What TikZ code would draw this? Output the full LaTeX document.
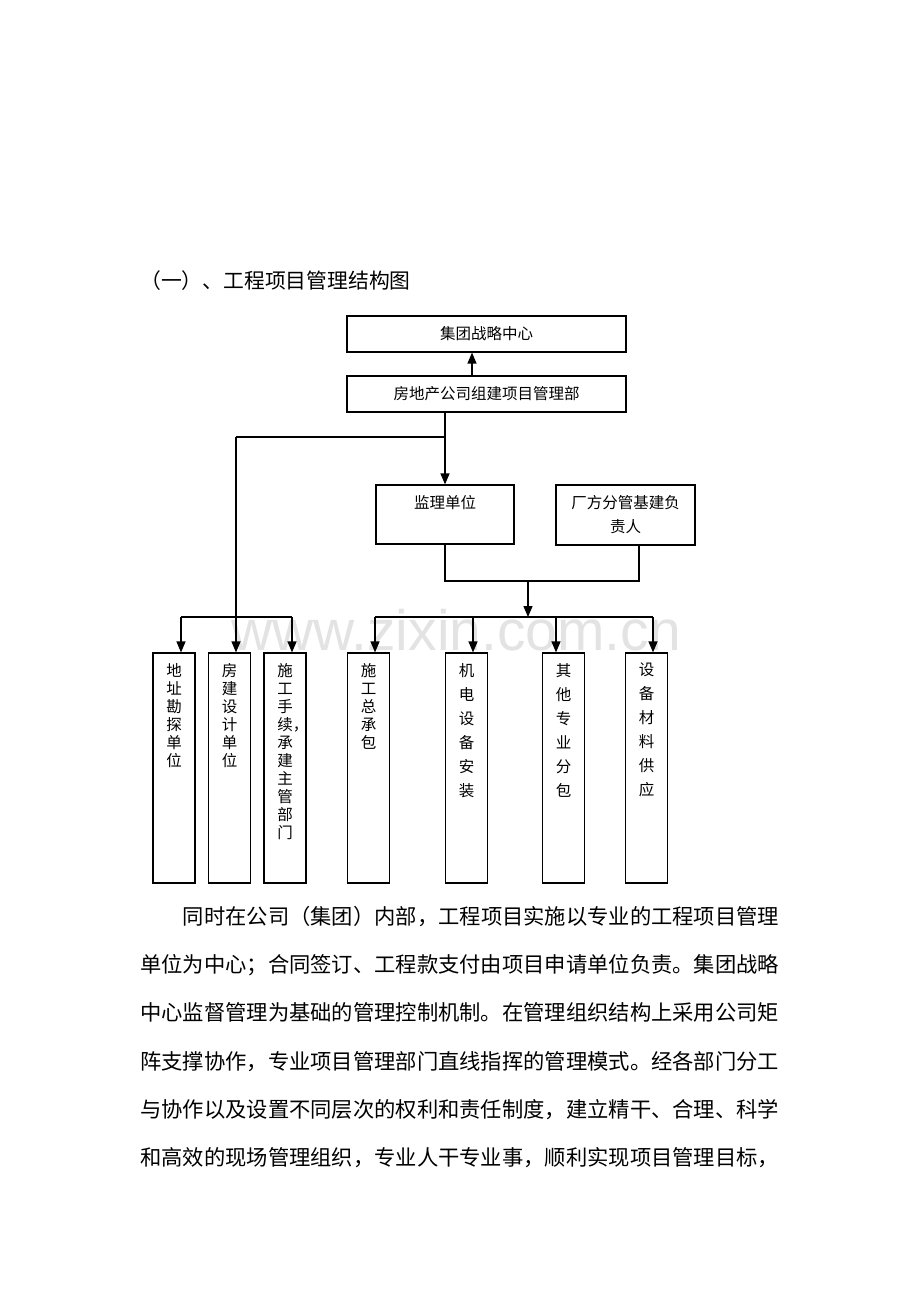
\documentclass[tikz,border=0pt]{standalone}
\usepackage{fontspec}
\newfontfamily\cjk{Noto Sans CJK SC}
\setsansfont{Liberation Sans}
\usetikzlibrary{arrows.meta}
\usetikzlibrary{positioning}

\tikzset{
  box/.style={draw, rectangle, line width=1.2pt, inner sep=0pt, align=center,
    font=\cjk\fontsize{15.5}{24}\selectfont},
  unit/.style={draw, rectangle, line width=1.2pt, inner sep=0pt, minimum width=42pt},
  link/.style={line width=1.3pt},
  arr/.style={link, -{Triangle[length=11pt,width=9pt]}}
}
\newcommand{\colstack}[2]{\parbox[c][230pt][t]{20pt}{\centering\cjk\fontsize{15.5}{#1}\selectfont\vspace*{10pt}#2}}

\begin{document}
\begin{tikzpicture}[x=1pt,y=-1pt]
		\useasboundingbox (0,0) rectangle (920,1302);
		% watermark
		\node[anchor=base west, inner sep=0pt, text=gray!22,
		  font=\sffamily\fontsize{57}{57}\selectfont] (wm) at (231,650) {www.zixin.com.cn};
		
		\node[anchor=west, inner sep=0pt, font=\cjk\fontsize{20.8}{20.8}\selectfont] (title) at (140,281) {（一）、工程项目管理结构图};
		
		\node[box, minimum width=279pt, minimum height=36pt] (hq) at (486.5,334) {集团战略中心};
		\node[box, minimum width=279pt, minimum height=36pt] (dept) at (486.5,394) {房地产公司组建项目管理部};
		\node[box, minimum width=138pt, minimum height=59pt] (supv) at (445,514.5) {监理单位\\\phantom{监}};
		\node[box, minimum width=139pt, minimum height=60pt] (owner) at (625.5,515) {厂方分管基建负\\责人};
		
		\node[unit] (u1) at (174,768) {\colstack{18}{地\\址\\勘\\探\\单\\位}};
		\node[unit] (u2) at (229.5,768) {\colstack{18}{房\\建\\设\\计\\单\\位}};
		\node[unit] (u3) at (285,768) {\colstack{18}{施\\工\\手\\续\rlap{，}\\承\\建\\主\\管\\部\\门}};
		\node[unit] (u4) at (368.5,768) {\colstack{18}{施\\工\\总\\承\\包}};
		\node[unit] (u5) at (466.5,768) {\colstack{24}{机\\电\\设\\备\\安\\装}};
		\node[unit] (u6) at (563.5,768) {\colstack{24}{其\\他\\专\\业\\分\\包}};
		\node[unit] (u7) at (646.5,768) {\colstack{24}{设\\备\\材\\料\\供\\应}};
		
		% upper links
		\coordinate (up) at (472,0);
		\draw[arr] (dept.north -| up) -- (hq.south -| up);
		\draw[arr] (dept.south -| supv.north) -- (supv.north);
		\coordinate (fork) at (445,437);
		\coordinate (lturn) at (236,437);
		\draw[link] (fork) -- (lturn);
		\draw[arr] (lturn) -- (lturn |- u2.north);
		
		% left bus
		\coordinate (la) at (181,617);
		\coordinate (lc) at (292,617);
		\draw[link] (la) -- (lc);
		\draw[arr] (la) -- (la |- u1.north);
		\draw[arr] (lc) -- (lc |- u3.north);
		
		% right bus
		\coordinate (join) at (528,581);
		\coordinate (cf) at (639,581);
		\draw[link] (supv.south) -- (supv.south |- join) -- (cf) -- (cf |- owner.south);
		\coordinate (rbus) at (528,617);
		\draw[arr] (join) -- (rbus);
		\draw[link] (375,617) coordinate (ra) -- (653,617) coordinate (rd);
		\foreach \u/\x in {u4/375, u5/473, u6/556, u7/653}
		  {\coordinate (t\u) at (\x,617);
		   \draw[arr] (t\u) -- (t\u |- \u.north);}
		
		\node[anchor=north west, inner sep=0pt, align=left,
		  font=\cjk\fontsize{21.3}{48.2}\selectfont] (body) at (140,906)
		  {\hspace*{42.6pt}同时在公司（集团）内部，工程项目实施以专业的工程项目管理\\
		   单位为中心；合同签订、工程款支付由项目申请单位负责。集团战略\\
		   中心监督管理为基础的管理控制机制。在管理组织结构上采用公司矩\\
		   阵支撑协作，专业项目管理部门直线指挥的管理模式。经各部门分工\\
		   与协作以及设置不同层次的权利和责任制度，建立精干、合理、科学\\
		   和高效的现场管理组织，专业人干专业事，顺利实现项目管理目标，};
		\end{tikzpicture}
\end{document}
